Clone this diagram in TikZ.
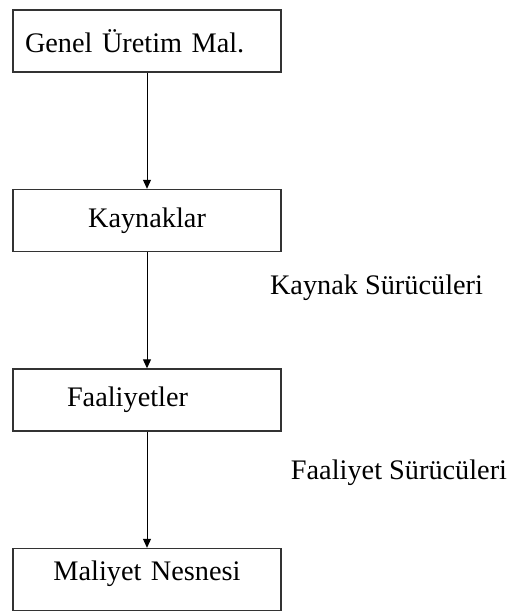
\documentclass[tikz,border=0pt]{standalone}
\usepackage{fontspec}
\setmainfont{Liberation Serif}
\usetikzlibrary{shapes.geometric, arrows.meta}
\tikzstyle{process} = [rectangle, minimum width=268pt, minimum height=62pt, text width=244pt, inner xsep=12pt, draw=black!80, line width=1.4pt]
\tikzstyle{driver} = [inner sep=0pt]
\tikzstyle{arrow} = [line width=1pt,-{Triangle[length=9pt,width=8pt]}]

\begin{document}
\begin{tikzpicture}[node distance=179.5pt, font=\fontsize{28.3}{34}\selectfont]
	\useasboundingbox (0,0) rectangle (509pt,-612pt);
	\node (gen) [process, align=left] at (147pt,-41pt) {Genel Üretim Mal.};
	\node (kay) [process, align=center, below of=gen] {Kaynaklar};
	\node (faa) [process, align=left, below of=kay] {\hspace*{42pt}Faaliyetler};
	\node (mal) [process, align=center, text depth=18pt, below of=faa] {Maliyet Nesnesi};
	\node (ksur) [driver, right of=kay, xshift=50pt, yshift=-67.5pt] {Kaynak Sürücüleri};
	\node (fsur) [driver, right of=faa, xshift=72.5pt, yshift=-73pt] {Faaliyet Sürücüleri};
	\draw [arrow] (gen) -- (kay);
	\draw [arrow] (kay) -- (faa);
	\draw [arrow] (faa) -- (mal);
\end{tikzpicture}
\end{document}
